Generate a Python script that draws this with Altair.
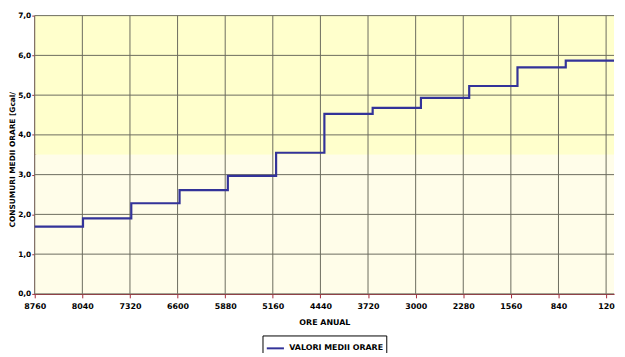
import altair as alt
import pandas as pd

hours = [0, 730, 1460, 2190, 2920, 3650, 4380, 5110, 5840, 6570, 7300, 8030, 8760]
values = [5.87, 5.70, 5.23, 4.93, 4.68, 4.53, 3.55, 2.97, 2.61, 2.28, 1.90, 1.69, 1.69]
series_name = "VALORI MEDII ORARE"
x_ticks = [8760, 8040, 7320, 6600, 5880, 5160, 4440, 3720, 3000, 2280, 1560, 840, 120]
y_ticks = [0, 1, 2, 3, 4, 5, 6, 7]
band_lo = [0, 3.5]
band_hi = [3.5, 7]
band_color = ["#FFFDE9", "#FFFFCC"]

df = pd.DataFrame({"h": hours, "v": values, "s": [series_name] * len(hours)})
bands = pd.DataFrame({"lo": band_lo, "hi": band_hi, "c": band_color})
xgrid = pd.DataFrame({"h": x_ticks})
ygrid = pd.DataFrame({"v": y_ticks})

FONT = "DejaVu Sans"
GRID = "#6b6b5e"
RED = "#A52A3A"
xscale = alt.Scale(domain=[8760, 0], nice=False, zero=False)
yscale = alt.Scale(domain=[0, 7], nice=False)

xaxis = alt.Axis(
    title="ORE ANUAL",
    values=x_ticks,
    format="d",
    grid=False,
    domainColor=RED,
    domainWidth=1.5,
    tickColor=RED,
    tickSize=4,
    labelFont=FONT,
    labelFontWeight="bold",
    labelFontSize=8,
    labelColor="black",
    labelPadding=5,
    titleFont=FONT,
    titleFontWeight="bold",
    titleFontSize=8,
    titleColor="black",
    titlePadding=8,
    labelFlush=False,
)
yaxis = alt.Axis(
    title="CONSUMURI MEDII ORARE [Gcal/",
    values=y_ticks,
    labelExpr="replace(format(datum.value, '.1f'), '.', ',')",
    grid=False,
    domainColor=RED,
    domainWidth=2,
    tickColor=RED,
    tickSize=3,
    labelFont=FONT,
    labelFontWeight="bold",
    labelFontSize=7.5,
    labelColor="black",
    labelPadding=1,
    titleFont=FONT,
    titleFontWeight="bold",
    titleFontSize=7.5,
    titleColor="black",
    titleX=-18,
    titleY=145,
)

bg = alt.Chart(bands).mark_rect().encode(
    x=alt.value(0),
    x2=alt.value(585),
    y=alt.Y("lo:Q", scale=yscale, axis=yaxis),
    y2="hi:Q",
    fill=alt.Fill("c:N", scale=None, legend=None),
)

vgrid = alt.Chart(xgrid).mark_rule(color=GRID, strokeWidth=1).encode(
    x=alt.X("h:Q", scale=xscale, axis=xaxis),
    y=alt.value(0),
    y2=alt.value(281),
)

hgrid = alt.Chart(ygrid).mark_rule(color=GRID, strokeWidth=1).encode(
    y=alt.Y("v:Q", scale=yscale, axis=yaxis),
    x=alt.value(0),
    x2=alt.value(585),
)

line = alt.Chart(df).mark_line(interpolate="step-after", strokeWidth=2.2).encode(
    x=alt.X("h:Q", scale=xscale, axis=xaxis),
    y=alt.Y("v:Q", scale=yscale, axis=yaxis),
    order="h:Q",
    color=alt.Color(
        "s:N",
        scale=alt.Scale(domain=[series_name], range=["#333399"]),
        legend=alt.Legend(
            title=None,
            orient="none",
            legendX=230,
            legendY=323,
            direction="horizontal",
            symbolType="stroke",
            symbolStrokeWidth=2,
            symbolSize=300,
            strokeColor="black",
            fillColor="white",
            padding=3,
            labelFont=FONT,
            labelFontWeight="bold",
            labelFontSize=8,
            labelColor="black",
        ),
    ),
)

chart = (
    alt.layer(bg, vgrid, hgrid, line)
    .properties(
        width=585,
        height=281,
        autosize=alt.AutoSizeParams(type="none"),
        padding={"left": 27, "top": 6, "right": 3, "bottom": 58},
        background="white",
    )
    .configure_view(strokeWidth=0)
)

chart.save("out.html", embed_options={"renderer": "svg", "actions": False})
